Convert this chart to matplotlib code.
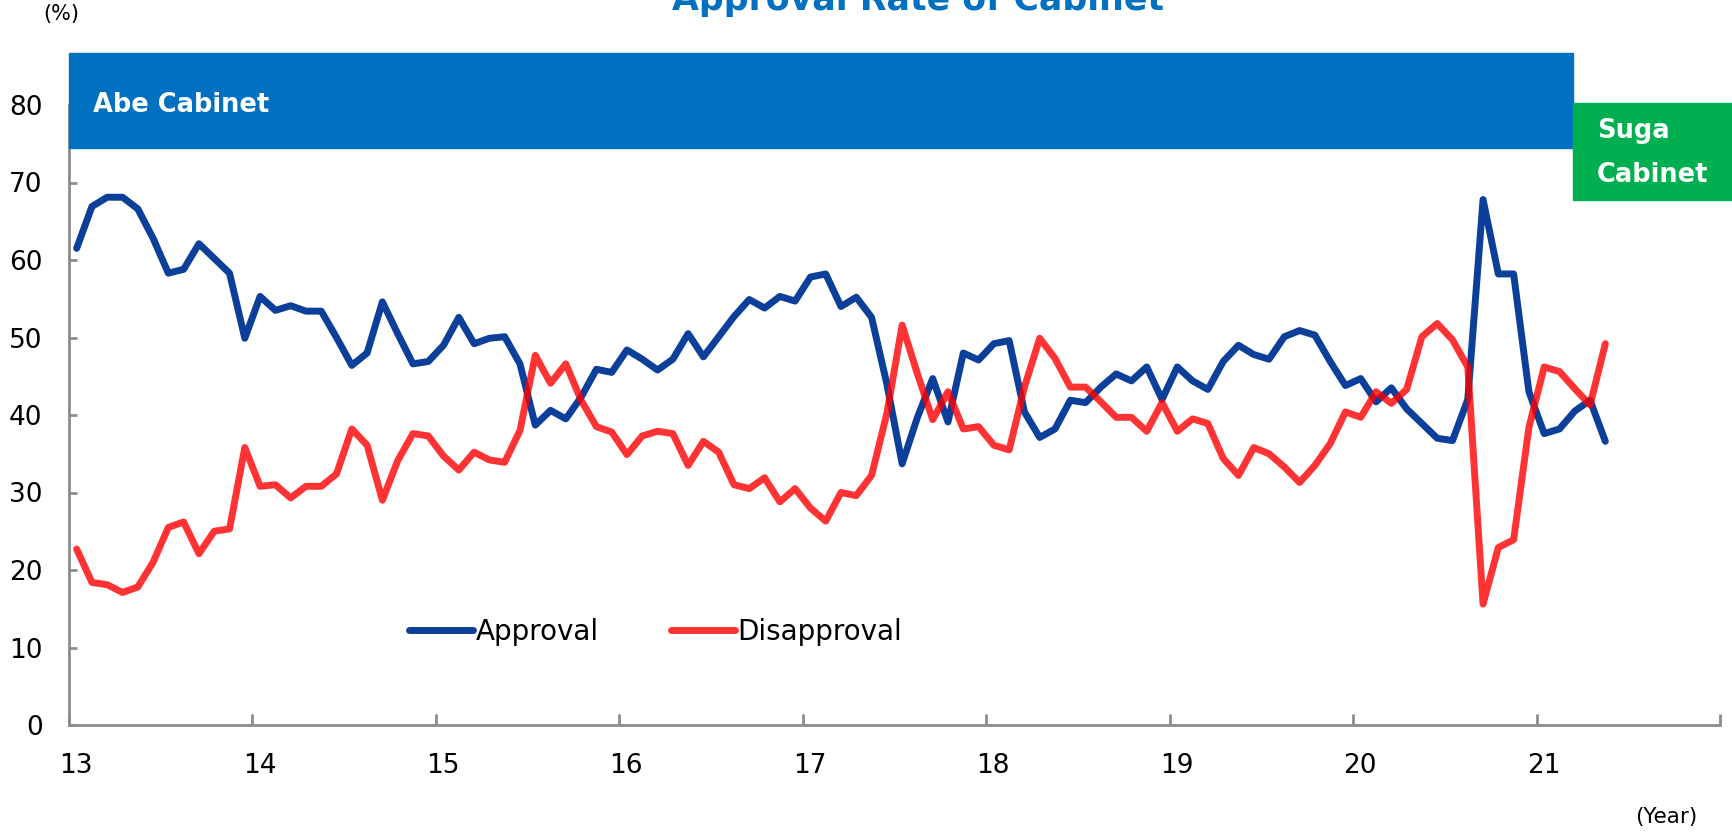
import numpy as np
import matplotlib
matplotlib.use("Agg")
import matplotlib.pyplot as plt
from matplotlib.transforms import ScaledTranslation
from matplotlib.patches import Rectangle

# ---------------- data (monthly, Jan 2013 - May 2021) ----------------
start_year = 13          # 2013
approval = [61.5, 66.9, 68.1, 68.1, 66.6, 62.8, 58.3, 58.8, 62.1, 60.2, 58.3, 49.9,
            55.3, 53.5, 54.1, 53.4, 53.4, 50.0, 46.4, 48.0, 54.6, 50.5, 46.6, 46.9,
            49.0, 52.6, 49.2, 49.9, 50.1, 46.6, 38.7, 40.6, 39.5, 42.3, 45.9, 45.5,
            48.4, 47.2, 45.8, 47.2, 50.5, 47.5, 50.1, 52.7, 54.9, 53.8, 55.3, 54.7,
            57.8, 58.2, 54.0, 55.2, 52.6, 44.0, 33.7, 39.7, 44.7, 39.1, 48.0, 47.1,
            49.2, 49.6, 40.4, 37.1, 38.2, 41.9, 41.6, 43.6, 45.3, 44.4, 46.2, 42.0,
            46.2, 44.4, 43.3, 46.9, 49.0, 47.8, 47.2, 50.1, 50.9, 50.3, 46.9, 43.8,
            44.7, 41.7, 43.5, 40.8, 38.9, 37.0, 36.7, 42.0, 67.8, 58.2, 58.2, 43.0,
            37.6, 38.2, 40.5, 41.9, 36.6]
disapproval = [22.7, 18.4, 18.1, 17.1, 17.8, 21.0, 25.5, 26.2, 22.1, 25.0, 25.3, 35.8,
               30.8, 31.0, 29.3, 30.8, 30.8, 32.4, 38.2, 36.1, 29.0, 34.1, 37.6, 37.3,
               34.7, 32.9, 35.2, 34.2, 33.9, 38.0, 47.7, 44.1, 46.6, 41.9, 38.5, 37.8,
               34.9, 37.3, 37.9, 37.6, 33.5, 36.6, 35.2, 31.0, 30.5, 31.9, 28.8, 30.5,
               28.0, 26.3, 30.0, 29.6, 32.2, 40.2, 51.6, 45.3, 39.4, 43.0, 38.2, 38.5,
               36.1, 35.5, 43.6, 49.9, 47.3, 43.6, 43.6, 41.7, 39.7, 39.7, 37.9, 41.6,
               37.9, 39.5, 38.9, 34.4, 32.2, 35.8, 35.0, 33.3, 31.3, 33.5, 36.3, 40.4,
               39.7, 43.0, 41.5, 43.3, 50.1, 51.8, 49.7, 46.2, 15.6, 22.9, 23.9, 38.4,
               46.2, 45.6, 43.4, 41.3, 49.2]
year_ticks = [13, 14, 15, 16, 17, 18, 19, 20, 21, 22]
year_labels = ["13", "14", "15", "16", "17", "18", "19", "20", "21", ""]
y_ticks = [0, 10, 20, 30, 40, 50, 60, 70, 80]
series_names = ["Approval", "Disapproval"]
title = "Approval Rate of Cabinet"
abe_label = "Abe Cabinet"
suga_label = "Suga\nCabinet"
abe_end = 21.2   # end of Abe band (year axis)

months = np.arange(len(approval))
x = start_year + (months + 0.5) / 12.0

# ---------------- figure ----------------
W, H = 1732, 832
plt.rcParams['font.family'] = ['DejaVu Sans']
fig = plt.figure(figsize=(W / 100, H / 100), dpi=100)

def fx(px):
    return px / W

def fy(py):
    return 1 - py / H

ax = fig.add_axes([fx(69), fy(725), fx(1720) - fx(69), fy(105) - fy(725)])
ax.set_xlim(13, 22)
ax.set_ylim(0, 80)

blue = '#0B3F99'
red = (1.0, 0.0, 0.0, 0.8)
l1, = ax.plot(x, approval, color=blue, lw=5, solid_joinstyle='round',
              solid_capstyle='round', zorder=3)
l2, = ax.plot(x, disapproval, color=red, lw=5, solid_joinstyle='round',
              solid_capstyle='round', zorder=4)

for s in ['top', 'right']:
    ax.spines[s].set_visible(False)
for s in ['left', 'bottom']:
    ax.spines[s].set_color('#8c8c8c')
    ax.spines[s].set_linewidth(2)

ax.set_xticks(year_ticks)
ax.set_xticklabels(year_labels)
ax.set_yticks(y_ticks)
ax.tick_params(axis='x', direction='in', length=8, width=2, color='#8c8c8c',
               labelsize=19, pad=20)
ax.tick_params(axis='y', direction='in', length=6, width=2, color='#8c8c8c',
               labelsize=19, pad=19)
off = ScaledTranslation(7 / 100, 0, fig.dpi_scale_trans)
for lab in ax.get_xticklabels():
    lab.set_transform(lab.get_transform() + off)

# cabinet bands
abe_x1 = ax.transData.transform((abe_end, 0))[0]
abe_x0 = ax.transData.transform((13, 0))[0]
fig.patches.append(Rectangle((fx(abe_x0), fy(148)), fx(abe_x1 - abe_x0), fy(53) - fy(148),
                             transform=fig.transFigure, color='#0070C0', zorder=5))
fig.patches.append(Rectangle((fx(abe_x1), fy(200)), 1 - fx(abe_x1), fy(103) - fy(200),
                             transform=fig.transFigure, color='#00B050', zorder=5))
fig.text(fx(93), fy(105), abe_label, color='white', fontsize=18.5, fontweight='bold',
         va='center', ha='left', zorder=6)
fig.text(fx(abe_x1 + 24), fy(153), suga_label,
         color='white', fontsize=18.5, fontweight='bold', va='center', ha='left',
         linespacing=1.9, zorder=6)

# title and unit labels
fig.text(fx(918), fy(10), title, color='#0070C0', fontsize=25, fontweight='bold',
         ha='center', va='baseline')
fig.text(fx(61), fy(14), "(%)", fontsize=15, ha='center', va='center')
fig.text(fx(1666), fy(817), "(Year)", fontsize=15.5, ha='center', va='center')

# legend
leg = fig.legend([l1, l2], series_names, loc='center left',
                 bbox_to_anchor=(fx(409), fy(632)), bbox_transform=fig.transFigure,
                 ncol=2, frameon=False, fontsize=20, handlelength=2.3,
                 handletextpad=0.1, columnspacing=2.6, borderpad=0, borderaxespad=0)

fig.savefig("out.png", dpi=100, facecolor='white')
